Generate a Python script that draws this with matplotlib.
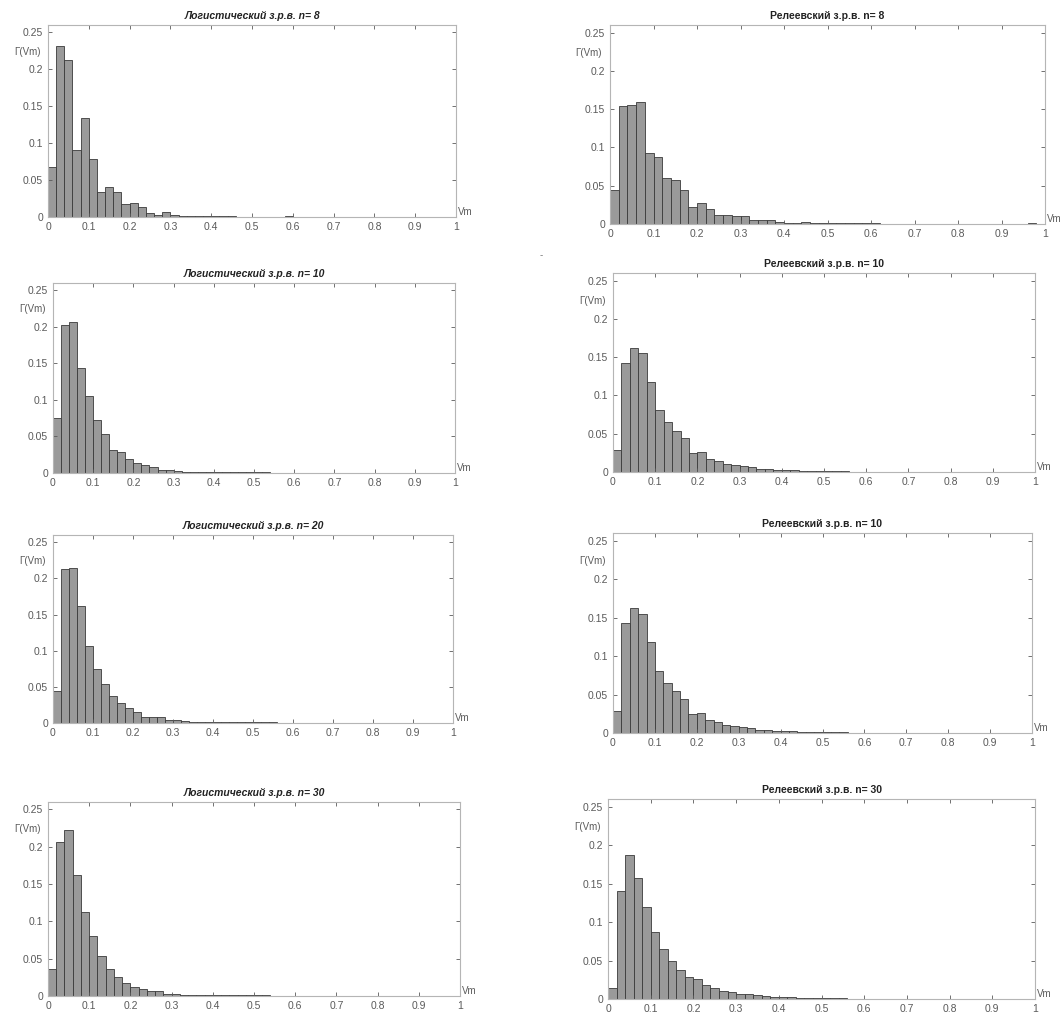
import numpy as np
import matplotlib
matplotlib.use("Agg")
from matplotlib import pyplot as plt
from matplotlib.transforms import blended_transform_factory

plt.rcParams['font.family'] = ['Liberation Sans', 'DejaVu Sans']

# bin edges: 50 bins of width 0.02 on [0, 1]
bin_left = np.arange(50) * 0.02

log_n8 = [0.068, 0.232, 0.212, 0.091, 0.134, 0.078, 0.034, 0.040, 0.034, 0.017,
          0.019, 0.014, 0.006, 0.003, 0.007, 0.003, 0.002, 0.002, 0.001, 0.001,
          0.0015, 0.0015, 0.001, 0.0005, 0.0005, 0.0005, 0.0005, 0.0003, 0.0003, 0.001,
          0, 0, 0, 0, 0, 0, 0, 0, 0, 0,
          0, 0, 0, 0, 0, 0, 0, 0, 0, 0]
log_n10 = [0.075, 0.203, 0.206, 0.144, 0.106, 0.073, 0.053, 0.031, 0.029, 0.019,
           0.014, 0.011, 0.008, 0.004, 0.004, 0.003, 0.002, 0.002, 0.0015, 0.0015,
           0.001, 0.001, 0.001, 0.001, 0.0008, 0.0008, 0.0008, 0.0005, 0.0005, 0.0005,
           0.0005, 0.0005, 0.0005, 0.0005, 0.0005, 0.0003, 0.0003, 0, 0, 0,
           0, 0, 0, 0, 0, 0, 0, 0, 0, 0]
log_n20 = [0.044, 0.213, 0.215, 0.162, 0.107, 0.075, 0.054, 0.037, 0.028, 0.021,
           0.015, 0.008, 0.008, 0.008, 0.004, 0.004, 0.003, 0.002, 0.002, 0.0015,
           0.0015, 0.0015, 0.001, 0.001, 0.001, 0.001, 0.0008, 0.0008, 0.0005, 0.0005,
           0.0003, 0.0003, 0.0003, 0.0003, 0.0003, 0.0003, 0, 0, 0, 0,
           0, 0, 0, 0, 0, 0, 0, 0, 0, 0]
log_n30 = [0.036, 0.207, 0.222, 0.162, 0.112, 0.080, 0.053, 0.036, 0.026, 0.018,
           0.012, 0.009, 0.007, 0.007, 0.003, 0.003, 0.002, 0.0015, 0.0015, 0.0015,
           0.0015, 0.001, 0.001, 0.001, 0.001, 0.001, 0.0008, 0.0005, 0.0005, 0.0005,
           0.0005, 0.0005, 0.0005, 0.0005, 0.0005, 0.0005, 0, 0, 0, 0,
           0, 0, 0, 0, 0, 0, 0, 0, 0, 0]

ray_n8 = [0.044, 0.154, 0.155, 0.159, 0.093, 0.087, 0.060, 0.058, 0.044, 0.022,
          0.027, 0.020, 0.012, 0.012, 0.010, 0.010, 0.005, 0.005, 0.005, 0.003,
          0.0015, 0.0015, 0.002, 0.0015, 0.0015, 0.001, 0.001, 0.0008, 0.001, 0.0008,
          0.0008, 0.0005, 0.0005, 0.0005, 0.0005, 0.0003, 0.0003, 0.0003, 0.0003, 0.0003,
          0.0003, 0.0003, 0.0003, 0.0003, 0.0003, 0.0003, 0.0003, 0.0003, 0.001, 0]
ray_n10 = [0.029, 0.143, 0.162, 0.155, 0.118, 0.081, 0.065, 0.054, 0.044, 0.025,
           0.026, 0.017, 0.014, 0.0105, 0.009, 0.008, 0.007, 0.0045, 0.004, 0.003,
           0.0026, 0.0022, 0.0018, 0.0013, 0.0013, 0.0012, 0.001, 0.0009, 0.0004, 0.0004,
           0.0003, 0.0003, 0.0003, 0.0003, 0.0003, 0.0003, 0.0002, 0.0002, 0.0002, 0.0002,
           0.0002, 0.0002, 0.0002, 0.0002, 0.0002, 0.0002, 0.0002, 0.0002, 0.0002, 0.0002]
ray_n30 = [0.014, 0.141, 0.187, 0.157, 0.119, 0.087, 0.065, 0.049, 0.038, 0.029,
           0.026, 0.018, 0.014, 0.010, 0.009, 0.0065, 0.007, 0.005, 0.0035, 0.003,
           0.0026, 0.002, 0.0013, 0.0013, 0.001, 0.001, 0.0008, 0.0008, 0.0006, 0.0006,
           0.0004, 0.0004, 0.0004, 0.0003, 0.0003, 0.0003, 0.0003, 0.0003, 0.0003, 0.0003,
           0.0003, 0.0003, 0.0003, 0.0003, 0.0003, 0.0003, 0.0003, 0.0003, 0.0003, 0.0005]

titles = ['Логистический з.р.в. n= 8', 'Релеевский з.р.в. n= 8',
          'Логистический з.р.в. n= 10', 'Релеевский з.р.в. n= 10',
          'Логистический з.р.в. n= 20', 'Релеевский з.р.в. n= 10',
          'Логистический з.р.в. n= 30', 'Релеевский з.р.в. n= 30']
series = [log_n8, ray_n8, log_n10, ray_n10, log_n20, ray_n10, log_n30, ray_n30]

xticks = [0, 0.1, 0.2, 0.3, 0.4, 0.5, 0.6, 0.7, 0.8, 0.9, 1]
yticks = [0, 0.05, 0.1, 0.15, 0.2, 0.25]

W, H = 1063, 1014
# axes boxes in pixels: left, right, top, bottom
boxes = [(48, 456, 25, 217), (610, 1045, 25, 224),
         (53, 455, 283, 473), (613, 1035, 273, 472),
         (53, 453, 535, 723), (613, 1032, 533, 733),
         (48, 460, 802, 996), (608, 1035, 799, 999)]

fig = plt.figure(figsize=(W / 100, H / 100), dpi=100)
fig.patch.set_facecolor('white')

for i, (vals, title, (l, r, t, b)) in enumerate(zip(series, titles, boxes)):
    ax = fig.add_axes([l / W, 1 - b / H, (r - l) / W, (b - t) / H])
    ax.bar(bin_left, vals, width=0.02, align='edge',
           color='#9a9a9a', edgecolor='#3a3a3a', linewidth=0.6)
    ax.set_xlim(0, 1)
    ax.set_ylim(0, 0.26)
    ax.set_xticks(xticks)
    ax.set_xticklabels(['%g' % v for v in xticks])
    ax.set_yticks(yticks)
    ax.set_yticklabels(['%g' % v for v in yticks])
    ax.tick_params(direction='in', length=3, width=0.6, top=True, right=True,
                   labelsize=7.5, colors='#5a5a5a', pad=3.5)
    for s in ax.spines.values():
        s.set_color('#b5b5b5')
        s.set_linewidth(0.8)
    style = 'italic' if i % 2 == 0 else 'normal'
    ax.set_title(title, fontsize=7.5, fontweight='bold', style=style,
                 color='#222222', pad=4)
    tr = blended_transform_factory(ax.transAxes, ax.transData)
    ax.text(-0.018, 0.224, 'Γ(Vm)', transform=tr, ha='right', va='center',
            fontsize=7, color='#5a5a5a')
    ax.text(1.004, 0.0, 'Vm', transform=tr, ha='left', va='bottom',
            fontsize=7, color='#5a5a5a')

fig.text(540 / W, 1 - 258 / H, '-', fontsize=7, color='#777777')

fig.savefig('out.png', dpi=100)
